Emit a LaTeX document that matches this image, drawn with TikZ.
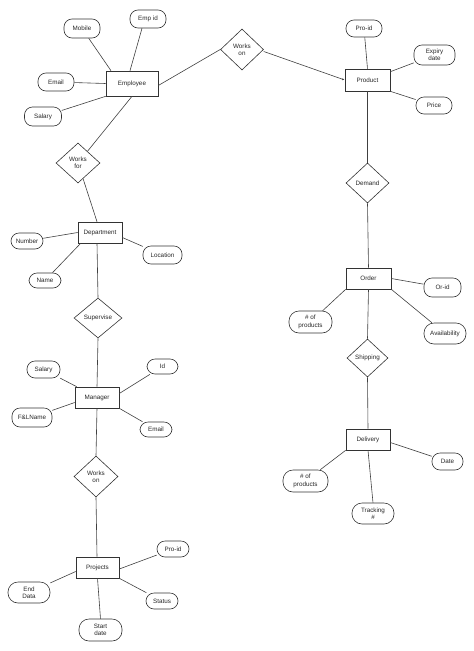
\documentclass[tikz,border=0pt]{standalone}
\usepackage{fontspec}
\setmainfont{Liberation Sans}
\usetikzlibrary{shapes.geometric,arrows.meta}
\tikzset{
  base/.style={draw=black!80, line width=0.6pt, inner sep=0pt, align=center, font=\fontsize{6.3pt}{7.4pt}\selectfont, text=black!85},
  entity/.style={base, rectangle, minimum width=44pt, minimum height=21pt},
  rel/.style={base, diamond, minimum width=43pt, minimum height=40pt},
  attr/.style={base, rectangle, rounded corners=8pt, minimum width=34pt, minimum height=17pt},
  conn/.style={draw=black!75, line width=0.6pt},
}
\begin{document}
\begin{tikzpicture}[x=1pt,y=-1pt]
\useasboundingbox (0,0) rectangle (474,651);
% entities
\node[entity, minimum width=52pt, minimum height=25pt] (emp) at (132,83.5) {Employee};
\node[entity, minimum width=45pt, minimum height=22pt] (prod) at (367.5,80) {Product};
\node[entity] (dept) at (100,232.5) {Department};
\node[entity] (mgr) at (97,397.5) {Manager};
\node[entity, minimum width=43pt] (proj) at (97.5,567.5) {Projects};
\node[entity, minimum width=45pt] (order) at (368.5,278.5) {Order};
\node[entity] (deliv) at (368,439.5) {Delivery};
% relationships
\node[rel, minimum width=44pt] (worksfor) at (78,163) {Works\\for};
\node[rel, minimum height=41pt] (workson1) at (242,49.5) {Works\\on};
\node[rel] (demand) at (367.5,183) {Demand};
\node[rel, minimum width=48pt] (supervise) at (98,318) {Supervise};
\node[rel, minimum width=44pt, minimum height=41pt] (workson2) at (96,476.5) {Works\\on};
\node[rel, minimum width=41pt, minimum height=38pt] (shipping) at (367.5,358) {Shipping};
% attributes
\node[attr, minimum width=36pt, minimum height=18pt] (empid) at (148,19) {Emp id};
\node[attr, minimum width=36pt, minimum height=19pt] (mobile) at (82,28.5) {Mobile};
\node[attr, minimum width=36pt, minimum height=18pt] (email1) at (56,82) {Email};
\node[attr, minimum width=37pt, minimum height=19pt] (salary1) at (43,116.5) {Salary};
\node[attr, minimum width=36pt] (proid1) at (364,28.5) {Pro-id};
\node[attr, minimum width=41pt, minimum height=20pt] (expiry) at (434.5,55) {Expiry\\date};
\node[attr, minimum width=36pt] (price) at (434,105.5) {Price};
\node[attr, minimum width=32pt, minimum height=16pt] (number) at (27,241) {Number};
\node[attr, minimum width=32pt, minimum height=15pt] (name) at (45,280.5) {Name};
\node[attr, minimum width=39pt, minimum height=18pt] (location) at (162.5,255) {Location};
\node[attr, minimum width=33pt] (salary2) at (43.5,369.5) {Salary};
\node[attr, minimum width=31pt, minimum height=15pt] (id) at (162.5,366.5) {Id};
\node[attr, minimum width=40pt, minimum height=19pt] (flname) at (32,417.5) {F\&LName};
\node[attr, minimum width=32pt, minimum height=15pt] (email2) at (156,429.5) {Email};
\node[attr, minimum width=32pt, minimum height=16pt] (proid2) at (173,549) {Pro-id};
\node[attr, minimum width=32pt, minimum height=16pt] (status) at (162,601) {Status};
\node[attr, minimum width=43pt, minimum height=22pt, rounded corners=10pt] (startdate) at (100.5,630) {Start\\date};
\node[attr, minimum width=42pt, minimum height=21pt, rounded corners=10pt] (enddata) at (29,592.5) {End\\Data};
\node[attr, minimum width=37pt, minimum height=19pt] (orid) at (442.5,287.5) {Or-id};
\node[attr, minimum width=43pt, minimum height=22pt, rounded corners=10pt] (nprod1) at (310.5,322) {\# of\\products};
\node[attr, minimum width=42pt, minimum height=21pt, rounded corners=10pt] (avail) at (445,333.5) {Availability};
\node[attr, minimum width=31pt, minimum height=17pt] (date) at (447.5,461.5) {Date};
\node[attr, minimum width=45pt, minimum height=22pt, rounded corners=10pt] (nprod2) at (305.5,481) {\# of\\products};
\node[attr, minimum width=42pt, minimum height=21pt, rounded corners=10pt] (tracking) at (373,513.5) {Tracking\\\#};
% connectors: employee
\draw[conn] (mobile) -- ([xshift=-21pt]emp.north);
\draw[conn] ([xshift=-6pt]empid.south) -- ([xshift=-2pt]emp.north);
\draw[conn] (email1) -- (emp.west);
\draw[conn] (salary1) -- (emp.south west);
\draw[conn] (emp.south) -- (worksfor);
\draw[conn] ([yshift=-2pt]emp.east) -- (workson1.west);
\draw[conn, -{Latex[length=2.5pt,width=2pt]}] ([yshift=-2pt]workson1.east) -- (prod.west);
% product
\draw[conn] (proid1) -- (prod.north);
\draw[conn] (expiry) -- ([yshift=-3pt]prod.north east);
\draw[conn] (price) -- (prod.south east);
\draw[conn] (prod.south) -- (demand.north);
\draw[conn] (demand.south) -- (order.north);
% department
\draw[conn] (worksfor) -- ([xshift=-3pt]dept.north);
\draw[conn] (number) -- (dept.west);
\draw[conn] (name) -- ([xshift=3pt]dept.south west);
\draw[conn] (location) -- ([yshift=-5pt]dept.east);
\draw[conn] ([xshift=-3pt]dept.south) -- (supervise.north);
\draw[conn] (supervise.south) -- (mgr.north);
% manager
\draw[conn] (salary2) -- ([xshift=2pt]mgr.north west);
\draw[conn] (id) -- ([yshift=4pt]mgr.east);
\draw[conn] (flname) -- ([yshift=-5pt]mgr.west);
\draw[conn] (email2) -- (mgr.south east);
\draw[conn] (mgr.south) -- (workson2.north);
\draw[conn] (workson2.south) -- ([xshift=-0.5pt]proj.north);
% projects
\draw[conn] (proid2) -- ([yshift=-1.5pt]proj.east);
\draw[conn] (status) -- (proj.south east);
\draw[conn] (proj.south) -- (startdate.north);
\draw[conn] (enddata) -- ([yshift=-4pt]proj.west);
% order
\draw[conn] (orid) -- (order.east);
\draw[conn] (nprod1) -- (order.south west);
\draw[conn] (avail) -- (order.south east);
\draw[conn] (order.south) -- (shipping.north);
\draw[conn] (shipping.south) -- (deliv.north);
% delivery
\draw[conn] (date) -- ([yshift=-3pt]deliv.east);
\draw[conn] (nprod2) -- (deliv.south west);
\draw[conn] (deliv.south) -- (tracking.north);
\end{tikzpicture}
\end{document}
